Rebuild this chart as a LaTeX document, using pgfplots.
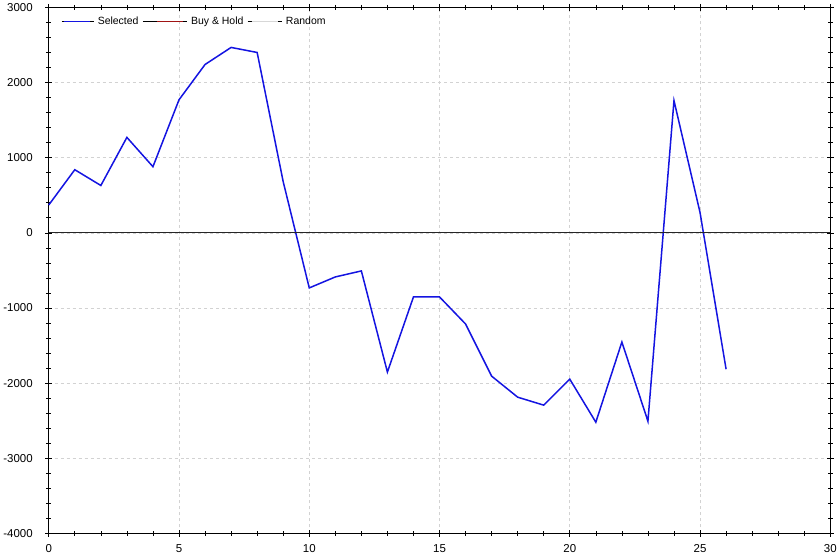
\documentclass[border=0pt]{standalone}
\usepackage{fontspec}
\setmainfont{Liberation Sans}
\usepackage{pgfplots}
\pgfplotsset{compat=1.18}

\definecolor{selblue}{RGB}{20,20,225}
\definecolor{bhred}{RGB}{160,20,20}
\definecolor{rndgray}{RGB}{215,215,215}

\begin{document}
\begin{tikzpicture}[x=1bp,y=1bp]
  \begin{axis}[
    scale only axis,
    width=780bp, height=525bp,
    xmin=0, xmax=30, ymin=-4000, ymax=3000,
    xtick={0,5,...,30},
    ytick={-4000,-3000,...,3000},
    minor x tick num=4,
    minor y tick num=4,
    tick align=center,
    major tick length=7bp,
    minor tick length=5bp,
    tick style={black, line width=0.6bp},
    axis line style={black, line width=0.8bp},
    grid=major,
    major grid style={dashed, gray!35, line width=0.6bp},
    /pgf/number format/assume math mode=true,
    /pgf/number format/1000 sep={},
    ticklabel style={font=\fontsize{11.5}{13}\selectfont},
    yticklabel style={xshift=-9bp},
    xticklabel style={yshift=-4bp},
    legend style={draw=none, fill=none, at={(0.012,0.99)}, anchor=north west,
      font=\fontsize{10.5}{12}\selectfont, column sep=2bp},
    legend columns=3,
    legend cell align=left,
    clip=false,
  ]
    \addplot[selblue, line width=1.5bp, forget plot] coordinates {
      (0,370) (1,840) (2,630) (3,1270) (4,880) (5,1770) (6,2240) (7,2467)
      (8,2400) (9,680) (10,-733) (11,-587) (12,-507) (13,-1853) (14,-853)
      (15,-853) (16,-1213) (17,-1907) (18,-2187) (19,-2293) (20,-1947)
      (21,-2520) (22,-1453) (23,-2507) (24,1760) (25,270) (26,-1815)
    };
    \addplot[black!85, line width=0.8bp, forget plot] coordinates {(0,0) (30,0)};
    \addlegendimage{legend image code/.code={
      \path (-2bp,0bp) -- (30bp,0bp);
      \draw[draw=selblue, line width=1.5bp] (0bp,0bp) -- (26bp,0bp);}}
    \addlegendentry{Selected}
    \addlegendimage{legend image code/.code={
      \path (-14bp,0bp) -- (30bp,0bp);
      \draw[draw=bhred, line width=1.5bp] (0bp,0bp) -- (26bp,0bp);}}
    \addlegendentry{Buy \& Hold}
    \addlegendimage{legend image code/.code={
      \path (-4bp,0bp) -- (30bp,0bp);
      \draw[draw=rndgray, line width=1.5bp] (0bp,0bp) -- (26bp,0bp);}}
    \addlegendentry{Random}
  \end{axis}
\end{tikzpicture}
\end{document}
